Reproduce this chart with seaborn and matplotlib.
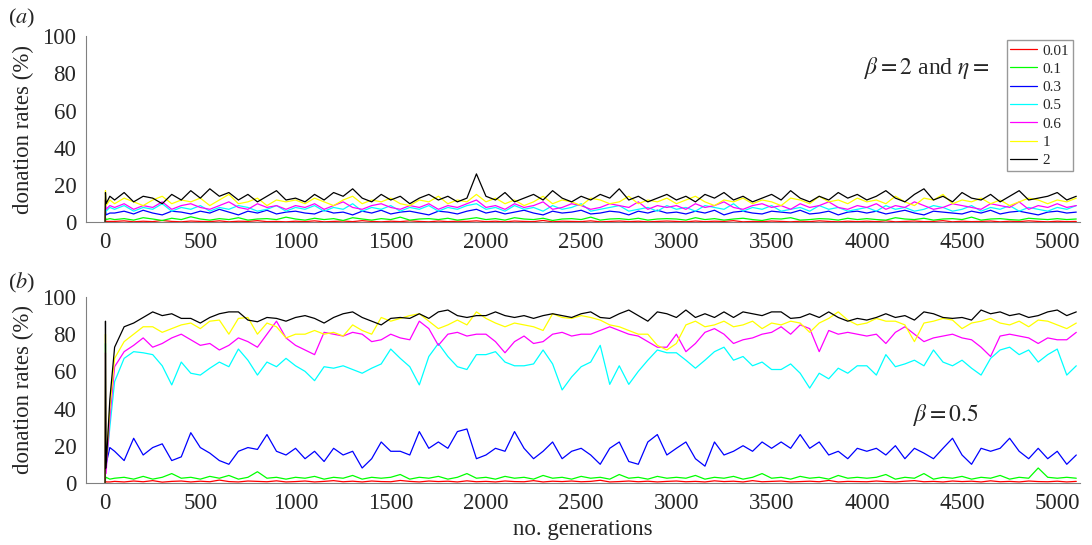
import pandas as pd
import seaborn as sns
import matplotlib.pyplot as plt

# generations sampled (early points catch the start-up transient)
gens = [0, 2, 5, 25] + list(range(50, 5101, 50))
eta_labels = ['0.01', '0.1', '0.3', '0.5', '0.6', '1', '2']
line_colors = ['#ff0000', '#00ff00', '#0000ff', '#00ffff', '#ff00ff', '#ffff00', '#000000']

# panel (a): beta = 2
red_a = [0, 1, 0.5, 0.5,
         0.5, 0.8, 0.3, 0.6, 0.4, 1, 0.5, 0.3, 0.7, 0.5, 0.4, 0.8, 0.3, 0.6, 0.5, 0.9, 0.4, 0.5, 0.3,
         0.6, 0.4, 0.8, 0.3, 0.5, 0.7, 0.4, 0.9, 0.5, 0.3, 0.6, 0.4, 0.8, 0.5, 0.3, 0.7, 0.4, 0.6, 0.5, 0.8,
         0.4, 0.6, 0.3, 0.7, 0.5, 0.4, 1, 0.3, 0.6, 0.5, 0.4, 0.8, 0.3, 0.5, 0.7, 0.4, 0.6, 0.3, 0.5, 0.7,
         0.5, 0.3, 0.7, 0.4, 0.6, 0.5, 0.9, 0.3, 0.5, 0.4, 0.7, 0.5, 0.3, 0.6, 0.4, 0.8, 0.5, 0.3, 0.6, 0.4,
         0.6, 0.4, 0.8, 0.3, 0.5, 0.7, 0.4, 0.5, 0.9, 0.3, 0.6, 0.4, 0.5, 0.7, 0.3, 0.6, 0.4, 0.8, 0.5, 0.3,
         0.6, 0.4, 0.5]
green_a = [0, 2.5, 1.5, 2,
           1.5, 2, 1.2, 2.5, 1.8, 1, 2.2, 1.5, 3, 1.8, 1.2, 2, 1.5, 2.5, 1.2, 1.8, 2, 1.5, 2.8,
           1.8, 1.2, 2.2, 1.5, 2, 1, 2.5, 1.8, 1.2, 2, 1.5, 2.8, 1.2, 1.8, 2, 1.5, 2.2, 1.2, 1.8, 2.5,
           1.5, 2, 1.2, 2.5, 1.8, 1.5, 2.2, 1, 1.8, 2, 1.5, 2.8, 1.2, 1.8, 2, 1.5, 2.2, 1.2, 1.8, 2,
           1.8, 1.2, 2.5, 1.5, 2, 1.2, 1.8, 2.2, 1.5, 1, 2, 1.8, 2.5, 1.2, 1.5, 2, 1.8, 1.2, 2.2, 1.5,
           2, 1.5, 1.2, 2.5, 1.8, 1.5, 2.2, 1.2, 1.8, 2, 1.5, 2.8, 1.2, 1.8, 2, 1.5, 1.2, 2.2, 1.8, 1.5,
           2, 1.5, 1.8]
blue_a = [0, 7, 4, 5,
          5, 6, 4.5, 6.5, 5, 4, 6, 5.5, 4.5, 6, 5, 7, 5.5, 4, 6, 5, 6.5, 4.5, 5.5,
          6, 5, 4.5, 6.5, 5, 5.5, 4, 6, 5, 6.5, 4.5, 5.5, 6, 5, 4, 6, 5.5, 4.5, 6, 7,
          5, 6, 4.5, 5.5, 6.5, 5, 4, 6, 5, 5.5, 6.5, 4.5, 5, 6, 5.5, 4, 6, 5, 6.5, 5,
          5.5, 4.5, 6, 5, 6.5, 4, 5.5, 6, 5, 4.5, 6, 5.5, 5, 6.5, 4.5, 5, 6, 4, 5.5, 6,
          5, 6, 4.5, 5.5, 6.5, 5, 4, 6, 5.5, 5, 4.5, 6, 5, 6.5, 4.5, 5.5, 6, 5, 4, 5.5,
          6, 5, 5.5]
cyan_a = [0, 10, 6, 8,
          7, 9, 6, 8, 7, 10, 6, 8, 7, 9, 6, 8, 7, 9, 8, 6, 7, 9, 6,
          8, 7, 9, 6, 8, 7, 10, 6, 8, 7, 9, 6, 8, 7, 9, 6, 8, 7, 9, 10,
          7, 8, 6, 9, 7, 8, 6, 9, 7, 8, 10, 6, 7, 8, 9, 6, 7, 8, 6, 9,
          7, 8, 6, 9, 8, 7, 10, 6, 8, 7, 9, 6, 7, 8, 6, 9, 7, 8, 6, 7,
          8, 6, 9, 7, 8, 6, 7, 9, 8, 6, 7, 9, 6, 8, 7, 9, 6, 8, 7, 6,
          8, 7, 9]
magenta_a = [0, 12, 7, 9,
             8, 10, 7, 9, 8, 11, 7, 9, 10, 8, 7, 9, 11, 8, 7, 10, 8, 9, 7,
             9, 8, 10, 7, 9, 11, 8, 7, 9, 10, 8, 7, 9, 8, 10, 7, 9, 8, 10, 12,
             8, 9, 7, 10, 8, 9, 11, 7, 8, 10, 9, 7, 8, 10, 9, 8, 11, 7, 9, 8,
             9, 7, 10, 8, 9, 11, 8, 7, 9, 10, 8, 9, 7, 10, 8, 9, 11, 8, 7, 9,
             8, 10, 7, 9, 8, 11, 9, 7, 8, 10, 9, 8, 7, 10, 9, 8, 11, 7, 9, 8,
             10, 8, 9]
yellow_a = [0, 17, 9, 12,
            10, 13, 11, 9, 12, 14, 10, 12, 11, 13, 9, 12, 15, 10, 11, 13, 9, 12, 11,
            12, 10, 13, 11, 9, 12, 14, 10, 12, 11, 13, 10, 9, 12, 11, 14, 10, 12, 11, 15,
            11, 13, 10, 12, 9, 11, 14, 10, 12, 11, 9, 13, 12, 10, 11, 14, 10, 12, 11, 13,
            10, 12, 14, 11, 9, 12, 11, 13, 10, 12, 11, 9, 13, 12, 10, 14, 11, 12, 10, 13,
            11, 12, 10, 14, 11, 9, 13, 12, 15, 10, 12, 11, 13, 10, 12, 9, 11, 13, 12, 10,
            12, 11, 13]
black_a = [0, 16, 10, 14,
           12, 16, 11, 14, 13, 10, 15, 12, 17, 13, 18, 14, 16, 12, 15, 11, 14, 17, 12,
           13, 11, 15, 12, 16, 14, 18, 13, 11, 15, 12, 14, 10, 13, 15, 12, 14, 11, 13, 26,
           14, 12, 16, 11, 13, 15, 12, 17, 13, 11, 14, 12, 15, 13, 18, 12, 14, 11, 13, 15,
           12, 14, 11, 15, 13, 16, 12, 14, 11, 13, 15, 12, 17, 13, 11, 14, 12, 16, 13, 15,
           12, 14, 17, 13, 11, 15, 18, 12, 14, 11, 16, 13, 12, 15, 11, 14, 17, 12, 13, 14,
           16, 12, 14]

# panel (b): beta = 0.5
red_b = [0, 1, 0.5, 0.5,
         0.8, 0.5, 1, 0.6, 1.2, 0.4, 0.8, 1, 0.5, 0.9, 0.6, 1.5, 0.7, 0.5, 1, 0.8, 0.6, 1.1, 0.5,
         0.7, 1, 0.5, 0.8, 1.2, 0.6, 0.9, 0.5, 1, 0.7, 0.6, 1.3, 0.8, 0.5, 1, 0.7, 0.9, 0.5, 1.1, 0.6,
         0.8, 0.5, 1, 0.7, 0.6, 1.2, 0.5, 0.9, 0.7, 1, 0.6, 0.8, 1.4, 0.5, 0.7, 1, 0.6, 0.9, 0.5, 0.8,
         1, 0.6, 0.8, 0.5, 1.1, 0.7, 0.9, 0.5, 1.2, 0.6, 0.8, 1, 0.5, 0.7, 0.9, 0.6, 1.3, 0.5, 0.8, 0.7,
         0.6, 1, 0.7, 0.5, 0.9, 1.2, 0.6, 0.8, 0.5, 1, 0.7, 0.9, 0.5, 1.1, 0.6, 0.8, 0.5, 1, 0.7, 0.6,
         0.9, 0.5, 0.8]
green_b = [0, 2, 3, 2,
           2.5, 3, 2, 3.5, 2, 3, 5, 2.5, 3, 2, 3.5, 2.5, 4, 2, 3, 6, 2.5, 3, 2,
           3, 2.5, 3.5, 2, 3, 2.5, 4, 2, 3, 2.5, 3, 4.5, 2, 3, 2.5, 3.5, 2, 3, 5, 2.5,
           3, 2, 3.5, 2.5, 3, 2, 4, 2.5, 3, 2, 3.5, 2.5, 3, 2, 4.5, 2.5, 3, 2, 3.5, 2.5,
           3, 2.5, 4, 2, 3, 2.5, 3.5, 2, 3, 5, 2.5, 3, 2, 3.5, 2.5, 3, 2, 4, 2.5, 3,
           2.5, 3, 4.5, 2, 3, 2.5, 5, 2, 3, 2.5, 3.5, 2, 3, 2.5, 4, 2, 3, 2.5, 8, 3,
           2.5, 3, 2.5]
blue_b = [0, 15, 10, 19,
          17, 12, 24, 15, 19, 21, 12, 14, 27, 19, 16, 12, 10, 17, 19, 18, 26, 17, 15,
          18.6, 13, 17, 11.5, 18.6, 15, 17, 8, 13, 22, 17, 17, 15, 27.6, 18.6, 22, 18.6, 27.6, 29, 13,
          15, 18.6, 17, 27.6, 18.6, 13, 17, 22, 13, 17, 18.6, 15, 10, 18.6, 22, 11.5, 10, 22, 26, 15,
          18.6, 22, 13, 9, 22, 15, 17, 20, 17, 22, 18.6, 22, 18.6, 26, 18.6, 22, 15, 17, 13, 18.6,
          17, 18.6, 15, 20, 13, 18.6, 16, 13, 18.6, 24, 15, 10, 18.6, 17, 18.6, 24, 17, 13, 18.6, 13,
          17, 10, 15]
cyan_b = [0, 75, 8, 30,
          54.5, 67, 70.6, 70, 69, 63, 52.7, 65, 59, 58, 61.7, 65, 62.5, 72, 66, 58, 65, 62.5, 67,
          63, 60, 55, 62.5, 61.7, 63, 61, 59, 61.7, 64, 72, 67, 62.5, 52.7, 68, 75, 68, 62.5, 61, 69,
          69, 70.6, 65, 63, 63, 64, 71.5, 64, 50, 57, 62.5, 65, 74, 53, 63, 53, 60, 66, 71.5, 70,
          70, 66, 61.7, 66, 70.6, 73, 66, 68, 63, 65, 61, 61, 64, 59, 51, 59, 56, 61.7, 59, 63,
          63, 58, 69, 62.5, 64, 66, 63, 71.5, 65, 63, 66, 61.7, 58, 67, 71.5, 73, 69, 71.5, 65, 69,
          72, 58, 63]
magenta_b = [0, 70, 5, 35,
             62.5, 70.6, 74, 78, 73, 75, 78, 80, 77, 74, 75, 71.5, 74, 78, 76, 73, 80, 87, 78,
             74, 71.5, 69, 81, 80, 79, 81, 80, 76, 77, 80, 78, 77, 87, 83, 74, 80, 81, 79, 80,
             80, 76, 70, 76, 79, 75, 76, 80, 81, 79, 80, 80, 82, 84, 82, 80, 79, 76, 73, 73,
             80, 70.6, 75, 81, 83, 80, 75, 77, 78, 80, 81, 84, 80, 85, 83, 70.6, 82, 80, 81, 80,
             79, 80, 75, 81, 84, 80, 76, 78, 79, 80, 78, 77, 73, 68, 79, 80, 79, 78, 75, 78,
             77, 77, 81]
yellow_b = [0, 80, 10, 40,
            67, 76, 80, 84, 84, 81, 83, 85, 86, 83, 87, 87.6, 80, 88.5, 89, 80, 86, 84, 78,
            80, 80, 82, 80, 81, 79, 85, 82, 80, 89, 87, 88.5, 90, 91, 87, 83, 85, 87.6, 85, 92,
            88.5, 86, 84, 86, 85, 84, 82, 91, 89, 88.5, 90, 89, 87.6, 85, 84, 82, 80, 80, 74, 71.5,
            75, 85, 87, 84, 85, 87, 84, 85, 87, 83, 86, 85, 87, 86, 81, 86, 88.5, 92, 87.6, 85,
            86, 88.5, 87, 87, 85, 76, 86, 87, 88.5, 87.6, 83, 86, 87, 88.5, 86, 85, 87, 84, 87.6, 87,
            85, 83, 86]
black_b = [0, 87, 8, 45,
           73, 84, 86, 89, 92, 90, 91, 88.5, 88.5, 86, 89, 91, 92, 92, 87.6, 86.7, 89, 88.5, 87,
           89, 90, 88.5, 86, 89, 91, 92, 89, 87, 85, 88.5, 89, 88.5, 91, 88.5, 92, 93, 90, 89, 90,
           90, 92, 90, 89, 90, 88.5, 90, 91, 90, 89, 91, 92, 89, 88.5, 91, 93, 90, 87, 92, 91,
           89, 93, 89, 91, 89, 92, 89, 92, 91, 90, 92, 92, 88.5, 89, 91, 89, 92, 89, 87, 88.5,
           87.6, 89, 91, 89, 90, 87.6, 92, 91, 89, 88.5, 89, 87.6, 93, 91, 92, 90, 91, 89, 90, 92,
           93, 90, 92]

series_a = [red_a, green_a, blue_a, cyan_a, magenta_a, yellow_a, black_a]
series_b = [red_b, green_b, blue_b, cyan_b, magenta_b, yellow_b, black_b]


def long_frame(series):
    parts = []
    for label, vals in zip(eta_labels, series):
        parts.append(pd.DataFrame({'gen': gens, 'rate': vals, 'eta': label}))
    return pd.concat(parts, ignore_index=True)


sns.set_style('white')
plt.rcParams['font.family'] = ['Liberation Serif', 'DejaVu Serif']
plt.rcParams['mathtext.fontset'] = 'stix'

fig = plt.figure(figsize=(10.92, 5.45), dpi=100)
ax_a = fig.add_axes([0.0788, 0.592, 0.9103, 0.342])
ax_b = fig.add_axes([0.0788, 0.114, 0.9103, 0.341])
palette = dict(zip(eta_labels, line_colors))

for ax, series in [(ax_a, series_a), (ax_b, series_b)]:
    sns.lineplot(data=long_frame(series), x='gen', y='rate', hue='eta',
                 hue_order=eta_labels, palette=palette, estimator=None,
                 sort=False, linewidth=0.9, legend=False, ax=ax)
    ax.set_xlim(-100, 5120)
    ax.set_ylim(0, 100)
    ax.set_xticks(range(0, 5001, 500))
    ax.set_yticks(range(0, 101, 20))
    ax.tick_params(direction='in', length=5, width=0.8, color='#808080',
                   labelsize=16.5, pad=7)
    sns.despine(ax=ax)
    for side in ['left', 'bottom']:
        ax.spines[side].set_color('#808080')
        ax.spines[side].set_linewidth(0.8)
    ax.set_ylabel('donation rates (%)', fontsize=16.5)
    ax.yaxis.set_label_coords(-0.052, 0.5)
    ax.set_xlabel('')

ax_b.set_xlabel('no. generations', fontsize=16.5, labelpad=4)

leg = ax_a.legend(ax_a.get_lines()[:7], eta_labels, loc='upper right',
                  bbox_to_anchor=(0.9826, 0.9266), bbox_transform=fig.transFigure,
                  frameon=True, fancybox=False, edgecolor='#808080', fontsize=11,
                  handlelength=1.75, handletextpad=0.35, labelspacing=0.3,
                  borderpad=0.25, borderaxespad=0)
leg.get_frame().set_linewidth(1.0)

ax_a.text(0.909, 0.828, r'$\beta = 2$ and $\eta =$', transform=ax_a.transAxes,
          ha='right', va='center', fontsize=17)
ax_b.text(0.832, 0.366, r'$\beta = 0.5$', transform=ax_b.transAxes,
          ha='left', va='center', fontsize=17)

fig.text(0.007, 0.967, r'($a$)', ha='left', va='center', fontsize=16)
fig.text(0.007, 0.481, r'($b$)', ha='left', va='center', fontsize=16)

plt.savefig('out.png', dpi=100)
